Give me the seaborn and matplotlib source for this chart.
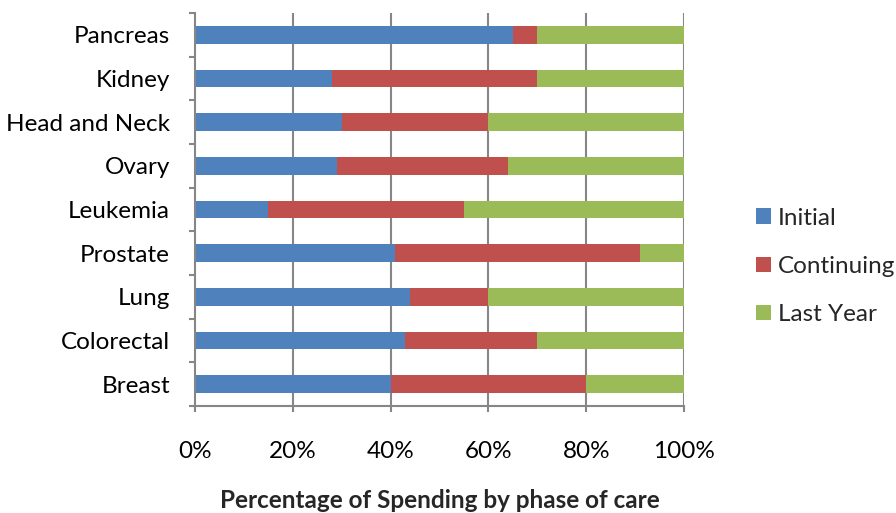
import matplotlib
matplotlib.use("Agg")
import matplotlib.pyplot as plt
from matplotlib.patches import Patch
from matplotlib.ticker import FixedLocator
import numpy as np
import pandas as pd
import seaborn as sns

# Share of spending per phase of care (percent), listed top to bottom
cancers = ["Pancreas", "Kidney", "Head and Neck", "Ovary", "Leukemia",
           "Prostate", "Lung", "Colorectal", "Breast"]
initial = [65, 28, 30, 29, 15, 41, 44, 43, 40]
continuing = [5, 42, 30, 35, 40, 50, 16, 27, 40]
last_year = [30, 30, 40, 36, 45, 9, 40, 30, 20]

phases = ["Initial", "Continuing", "Last Year"]
colors = ["#4F81BD", "#C0504D", "#9BBB59"]
x_ticks = [0, 20, 40, 60, 80, 100]
x_labels = ["0%", "20%", "40%", "60%", "80%", "100%"]

sns.set_theme(style="white")
plt.rcParams["font.family"] = ["Lato", "DejaVu Sans"]
FS = 17.5

df = pd.DataFrame({"cancer": cancers, "Initial": initial,
                   "Continuing": continuing, "Last Year": last_year})
# cumulative right edges for the stacked segments
df["c_initial"] = df["Initial"]
df["c_continuing"] = df["Initial"] + df["Continuing"]
df["c_last"] = df["c_continuing"] + df["Last Year"]

fig = plt.figure(figsize=(8.96, 5.13), dpi=100)
ax = fig.add_axes([195 / 896, 1 - 406 / 513, (684 - 195) / 896, (406 - 13) / 513])

grid_c = "#868686"
for x in x_ticks[1:]:
    ax.axvline(x, color=grid_c, lw=1.5, zorder=0)

# draw widest stack first so narrower segments sit on top
for col, color in zip(["c_last", "c_continuing", "c_initial"], colors[::-1]):
    sns.barplot(data=df, x=col, y="cancer", order=cancers, orient="h",
                color=color, width=0.4, saturation=1, ax=ax, zorder=2,
                edgecolor="none")

ax.set_xlim(0, 100)
ax.set_ylim(len(cancers) - 0.5, -0.5)
ax.set_xlabel("")
ax.set_ylabel("")

ax.set_xticks(x_ticks)
ax.set_xticklabels(x_labels, fontsize=FS, color="#000000")
ax.tick_params(axis="x", bottom=True, length=4, width=1.5, color=grid_c, pad=21)

ax.set_yticks(range(len(cancers)))
ax.set_yticklabels(cancers, fontsize=FS, color="#000000")
ax.tick_params(axis="y", which="major", left=False, length=0, pad=18)
ax.yaxis.set_minor_locator(FixedLocator(np.arange(-0.5, len(cancers), 1.0)))
ax.tick_params(axis="y", which="minor", left=True, length=4, width=1.5, color=grid_c)

for side in ["top", "right"]:
    ax.spines[side].set_visible(False)
for side in ["left", "bottom"]:
    ax.spines[side].set_color(grid_c)
    ax.spines[side].set_linewidth(1.5)

handles = [Patch(facecolor=c, edgecolor="none") for c in colors]
fig.legend(handles, phases, loc="upper left", bbox_to_anchor=(746 / 896, 1 - 198 / 513),
           frameon=False, fontsize=FS, handlelength=0.62, handleheight=0.62,
           handletextpad=0.28, labelspacing=1.12, borderaxespad=0)

fig.text(439.5 / 896, 1 - 501 / 513, "Percentage of Spending by phase of care",
         ha="center", va="center", fontsize=FS, fontweight="bold")

fig.savefig("out.png", dpi=100, facecolor="white")
